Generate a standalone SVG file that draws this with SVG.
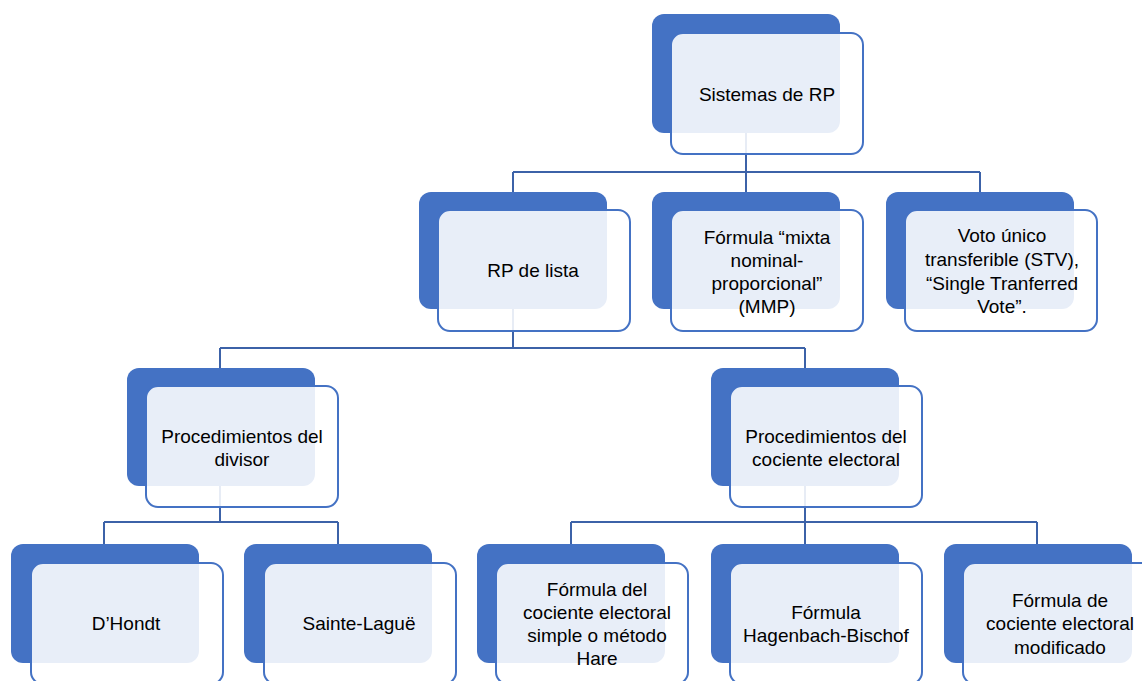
<svg xmlns="http://www.w3.org/2000/svg" width="1142" height="681" viewBox="0 0 1142 681">
<style>
.back{fill:#4472C4}
.front{fill:#FFFFFF;fill-opacity:0.88;stroke:#4472C4;stroke-width:2}
.lbl{font-family:"Liberation Sans",Arial,sans-serif;font-size:19px;fill:#000;text-anchor:middle}
.conn{fill:none;stroke:#3C62A8;stroke-width:2}
</style>
<rect width="1142" height="681" fill="#FFFFFF"/>
<g id="connectors">
<path class="conn" d="M746,133 V172 M513,172 H980 M513,172 V192 M746,172 V192 M980,172 V192"/>
<path class="conn" d="M513,309 V348 M220,348 H805 M220,348 V368 M805,348 V368"/>
<path class="conn" d="M220,486 V522 M104,522 H338 M104,522 V544 M338,522 V544"/>
<path class="conn" d="M805,486 V522 M571,522 H1037 M571,522 V544 M805,522 V544 M1037,522 V544"/>
</g>
<g id="n-sistemas">
<rect class="back" x="652" y="14" width="188" height="119" rx="12"/>
<rect class="front" x="671" y="33" width="192" height="121" rx="12"/>
<text class="lbl" x="767" y="101">Sistemas de RP</text>
</g>
<g id="n-lista">
<rect class="back" x="419" y="192" width="188" height="117" rx="12"/>
<rect class="front" x="438" y="210" width="192" height="121" rx="12"/>
<text class="lbl" x="533" y="277">RP de lista</text>
</g>
<g id="n-mmp">
<rect class="back" x="652" y="192" width="188" height="117" rx="12"/>
<rect class="front" x="671" y="210" width="192" height="121" rx="12"/>
<text class="lbl" x="767" y="244">Fórmula “mixta</text>
<text class="lbl" x="767" y="267">nominal-</text>
<text class="lbl" x="767" y="290">proporcional”</text>
<text class="lbl" x="767" y="313">(MMP)</text>
</g>
<g id="n-stv">
<rect class="back" x="886" y="192" width="188" height="117" rx="12"/>
<rect class="front" x="905" y="210" width="192" height="121" rx="12"/>
<text class="lbl" x="1002" y="242">Voto único</text>
<text class="lbl" x="1002" y="266">transferible (STV),</text>
<text class="lbl" x="1002" y="290">“Single Tranferred</text>
<text class="lbl" x="1002" y="313">Vote”.</text>
</g>
<g id="n-divisor">
<rect class="back" x="127" y="368" width="188" height="118" rx="12"/>
<rect class="front" x="146" y="386" width="192" height="121" rx="12"/>
<text class="lbl" x="242" y="443">Procedimientos del</text>
<text class="lbl" x="242" y="466">divisor</text>
</g>
<g id="n-cociente">
<rect class="back" x="711" y="368" width="188" height="118" rx="12"/>
<rect class="front" x="730" y="386" width="192" height="121" rx="12"/>
<text class="lbl" x="826" y="443">Procedimientos del</text>
<text class="lbl" x="826" y="466">cociente electoral</text>
</g>
<g id="n-dhondt">
<rect class="back" x="11" y="544" width="188" height="119" rx="12"/>
<rect class="front" x="31" y="563" width="192" height="121" rx="12"/>
<text class="lbl" x="126" y="630">D’Hondt</text>
</g>
<g id="n-sainte">
<rect class="back" x="244" y="544" width="188" height="119" rx="12"/>
<rect class="front" x="264" y="563" width="192" height="121" rx="12"/>
<text class="lbl" x="359" y="630">Sainte-Laguë</text>
</g>
<g id="n-hare">
<rect class="back" x="477" y="544" width="188" height="119" rx="12"/>
<rect class="front" x="496" y="563" width="192" height="121" rx="12"/>
<text class="lbl" x="597" y="596">Fórmula del</text>
<text class="lbl" x="597" y="619">cociente electoral</text>
<text class="lbl" x="597" y="642">simple o método</text>
<text class="lbl" x="597" y="665">Hare</text>
</g>
<g id="n-hagenbach">
<rect class="back" x="711" y="544" width="188" height="119" rx="12"/>
<rect class="front" x="730" y="563" width="192" height="121" rx="12"/>
<text class="lbl" x="826" y="619">Fórmula</text>
<text class="lbl" x="826" y="642">Hagenbach-Bischof</text>
</g>
<g id="n-modificado">
<rect class="back" x="944" y="544" width="188" height="119" rx="12"/>
<rect class="front" x="963" y="563" width="192" height="121" rx="12"/>
<text class="lbl" x="1060" y="607">Fórmula de</text>
<text class="lbl" x="1060" y="630">cociente electoral</text>
<text class="lbl" x="1060" y="654">modificado</text>
</g>
</svg>
